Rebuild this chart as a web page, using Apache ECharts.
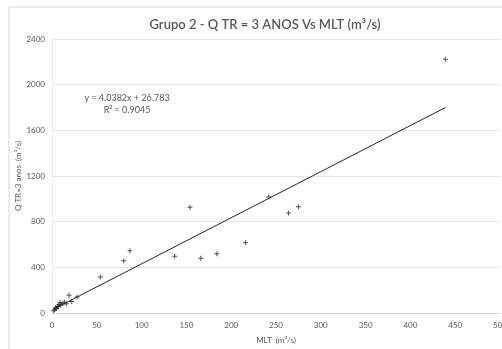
<!DOCTYPE html>
<html>
<head>
<meta charset="utf-8">
<script src="https://cdn.jsdelivr.net/npm/echarts@6/dist/echarts.min.js"></script>
<style>html,body{margin:0;padding:0;background:#fff;}#c{width:502px;height:349px;}</style>
</head>
<body>
<div id="c"></div>
<script>
// Data
const mltValues = [2, 3, 4, 5, 6, 7, 8, 9, 10, 12, 14, 16, 19, 22, 28, 54, 80, 87, 137, 154, 166, 184, 216, 242, 264, 275, 439];
const qtrValues = [20, 30, 45, 40, 60, 55, 75, 90, 70, 85, 95, 80, 155, 100, 140, 315, 458, 545, 498, 926, 480, 520, 615, 1015, 875, 930, 2222];
const xTicks = [0, 50, 100, 150, 200, 250, 300, 350, 400, 450, 500];
const yTicks = [0, 400, 800, 1200, 1600, 2000, 2400];
const trendSlope = 4.0382;
const trendIntercept = 26.783;
const equationText = 'y = 4.0382x + 26.783';
const r2Text = 'R² = 0.9045';
const titleText = 'Grupo 2 - Q TR = 3 ANOS Vs MLT (m³/s)';
const xName = 'MLT  (m³/s)';
const yName = 'Q TR=3 anos  (m³/s)';

const points = mltValues.map((x, i) => [x, qtrValues[i]]);
const xMin = Math.min(...mltValues), xMax = Math.max(...mltValues);
const trend = [[xMin, trendSlope * xMin + trendIntercept], [xMax, trendSlope * xMax + trendIntercept]];

const font = 'Lato, "Open Sans", sans-serif';
const chart = echarts.init(document.getElementById('c'), null, {renderer: 'canvas'});
chart.setOption({
  animation: false,
  backgroundColor: '#fff',
  title: {
    text: titleText, left: 260, top: 13, textAlign: 'center',
    textStyle: {fontFamily: font, fontSize: 13, fontWeight: 600, color: '#595959'}
  },
  grid: {left: 52, right: 2, top: 39, bottom: 36, outerBoundsMode: 'none', containLabel: false},
  xAxis: {
    type: 'value', min: xTicks[0], max: xTicks[xTicks.length - 1], interval: 50,
    name: xName, nameLocation: 'middle', nameGap: 23, nameMoveOverlap: false,
    nameTextStyle: {fontFamily: font, fontSize: 8, color: '#595959'},
    axisLine: {show: true, lineStyle: {color: '#d9d9d9'}},
    axisTick: {show: false},
    splitLine: {show: false},
    axisLabel: {fontFamily: font, fontSize: 8, color: '#595959', margin: 8, formatter: v => String(v)}
  },
  yAxis: {
    type: 'value', min: yTicks[0], max: yTicks[yTicks.length - 1], interval: 400,
    name: yName, nameLocation: 'middle', nameGap: 30, nameRotate: 90, nameMoveOverlap: false,
    nameTextStyle: {fontFamily: font, fontSize: 8, color: '#595959'},
    axisLine: {show: true, lineStyle: {color: '#eeeeee'}},
    axisTick: {show: false},
    splitLine: {show: true, lineStyle: {color: '#e6e6e6'}},
    axisLabel: {fontFamily: font, fontSize: 8, color: '#595959', margin: 7, formatter: v => String(v)}
  },
  series: [
    {
      type: 'line', data: trend, showSymbol: false, symbol: 'none',
      lineStyle: {color: '#262626', width: 1}, z: 2, silent: true
    },
    {
      type: 'scatter', data: points,
      symbol: 'path://M4,0H6V4H10V6H6V10H4V6H0V4H4Z', symbolSize: 5,
      itemStyle: {color: '#262626'}, z: 3
    }
  ],
  graphic: [
    {type: 'rect', shape: {x: 9, y: 7, width: 600, height: 400},
     style: {fill: 'none', stroke: '#d9d9d9', lineWidth: 1}, silent: true},
    {type: 'text', x: 127, y: 98,
     style: {text: equationText, fontFamily: font, fontSize: 9, fill: '#595959', textAlign: 'center', textVerticalAlign: 'middle'}},
    {type: 'text', x: 127, y: 110,
     style: {text: r2Text, fontFamily: font, fontSize: 9, fill: '#595959', textAlign: 'center', textVerticalAlign: 'middle'}}
  ]
});
</script>
</body>
</html>
